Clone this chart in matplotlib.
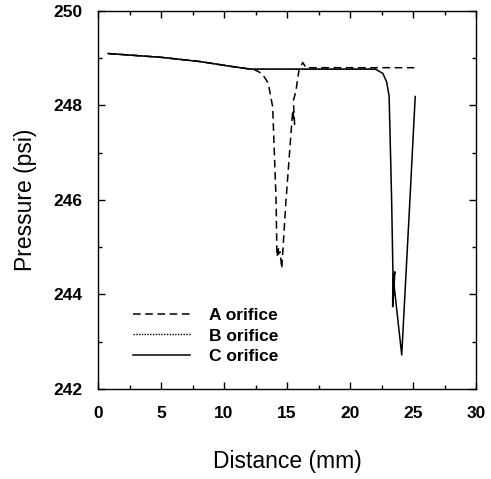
import numpy as np
import matplotlib as mpl
mpl.use('Agg')
import matplotlib.pyplot as plt
from matplotlib.ticker import MultipleLocator

plt.rcParams['font.family'] = ['Liberation Sans', 'DejaVu Sans']

## pressure traces
a_dist = [0.8, 5.0, 8.1, 10.5, 12.1, 12.4, 13.0, 13.5, 13.86, 14.13, 14.2, 14.35, 14.3,
          14.45, 14.58, 14.92, 15.45, 15.6, 15.5, 15.7, 15.96, 16.25, 16.5, 20.0, 25.1]
a_pres = [249.10, 249.02, 248.93, 248.83, 248.77, 248.76, 248.68, 248.48, 247.97, 246.0,
          244.8, 245.0, 244.85, 244.9, 244.55, 246.0, 247.9, 247.6, 248.1, 248.3,
          248.77, 248.91, 248.8, 248.8, 248.8]

b_dist = [0.8, 5.0, 8.1, 10.5, 12.1, 22.0]
b_pres = [249.10, 249.02, 248.93, 248.83, 248.77, 248.77]

c_dist = [0.8, 5.0, 8.1, 10.5, 12.1, 22.0, 22.6, 22.9, 23.1, 23.3, 23.4, 23.38, 23.5,
          23.55, 23.45, 24.1, 24.75, 25.17]
c_pres = [249.10, 249.02, 248.93, 248.83, 248.77, 248.77, 248.68, 248.5, 248.2, 246.0,
          244.5, 243.74, 244.2, 244.48, 244.3, 242.72, 246.0, 248.19]

fig = plt.figure(figsize=(4.91, 4.79), dpi=100)
ax = fig.add_axes([0.1996, 0.188, 0.770, 0.789])

ax.plot(a_dist, a_pres, color='black', lw=1.1, ls=(0, (5, 3)), label='A orifice')
ax.plot(b_dist, b_pres, color='black', lw=1.0, ls=(0, (1, 1)), label='B orifice')
ax.plot(c_dist, c_pres, color='black', lw=1.1, ls='-', label='C orifice')

ax.set_xlim(0, 30)
ax.set_ylim(242, 250)
ax.xaxis.set_major_locator(MultipleLocator(5))
ax.xaxis.set_minor_locator(MultipleLocator(2.5))
ax.yaxis.set_major_locator(MultipleLocator(2))
ax.yaxis.set_minor_locator(MultipleLocator(1))
ax.tick_params(which='both', direction='in', top=True, right=True, width=1.0)
ax.tick_params(which='major', length=5, labelsize=12.5)
ax.tick_params(axis='x', which='major', pad=12)
ax.tick_params(axis='y', which='major', pad=11)
ax.tick_params(which='minor', length=3)
for lab in ax.get_xticklabels() + ax.get_yticklabels():
    lab.set_fontweight('bold')
for sp in ax.spines.values():
    sp.set_linewidth(1.0)

ax.set_xlabel('Distance (mm)', fontsize=16.5, labelpad=21)
ax.set_ylabel('Pressure (psi)', fontsize=16.5, labelpad=12)

leg = ax.legend(loc='lower left', bbox_to_anchor=(0.05, 0.025), frameon=False,
                handlelength=3.3, handletextpad=1.1, labelspacing=0.3,
                prop={'size': 12.5, 'weight': 'bold'})

fig.savefig('out.png', dpi=100)
